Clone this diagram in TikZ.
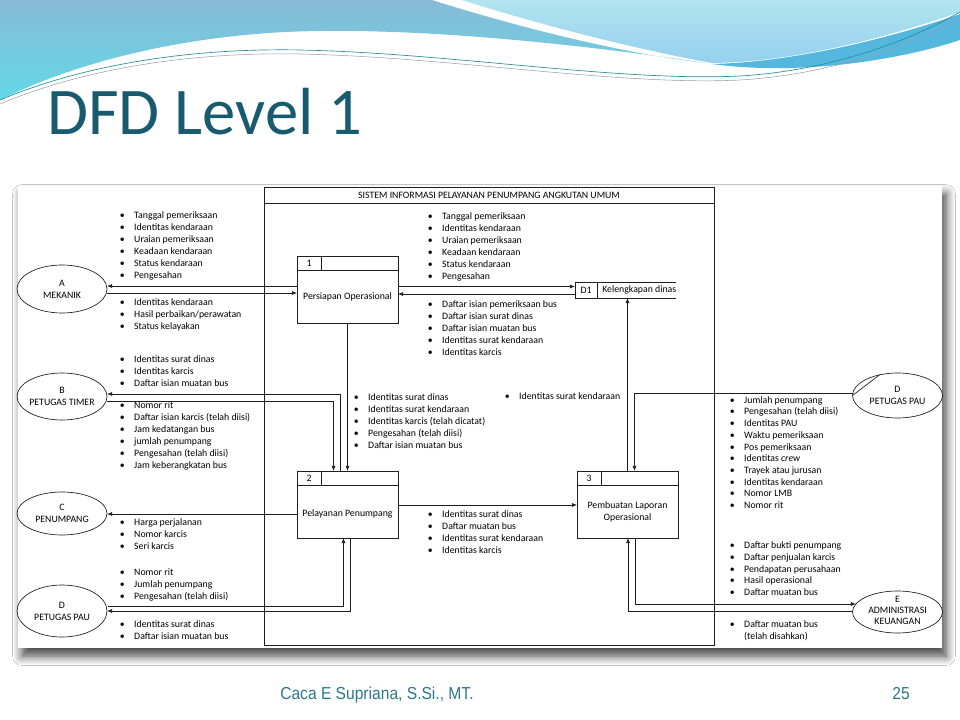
\documentclass[tikz,border=0pt]{standalone}
\usepackage{fontspec}
\setmainfont{Carlito}
\newfontfamily\footfont{Liberation Sans}
\usetikzlibrary{calc,arrows.meta,shadows.blur,shapes.geometric}
\definecolor{titlecol}{RGB}{24,90,110}
\definecolor{footcol}{RGB}{44,120,138}
\definecolor{waveA}{RGB}{136,186,214}
\definecolor{waveB}{RGB}{98,216,232}
\definecolor{waveC}{RGB}{176,228,238}
\definecolor{waveD}{RGB}{150,208,238}
\definecolor{waveE}{RGB}{84,184,222}
\definecolor{thinA}{RGB}{40,140,160}
\definecolor{thinB}{RGB}{150,160,175}
\definecolor{linecol}{RGB}{30,30,30}
\newcommand{\bl}[1]{\makebox[10.7pt][l]{\textbullet}#1}
\newcommand{\fs}{\fontsize{7.35pt}{9pt}\selectfont}
\newcommand{\fsr}{\fontsize{7.35pt}{8.8pt}\selectfont}
\begin{document}
\begin{tikzpicture}[x=0.75pt,y=-0.75pt,
  ln/.style={draw=linecol, line width=0.5pt},
  arr/.style={ln, -{Latex[length=3.8pt,width=3pt]}},
  proc/.style={ln, minimum width=75.75pt, minimum height=50.25pt, inner sep=0pt, outer sep=0pt},
  ext/.style={ellipse, ln, minimum width=67.5pt, inner sep=0pt, outer sep=0pt},
  txt/.style={font=\fs, inner sep=0pt, text=black},
  lst/.style={font=\fs, inner sep=0pt, align=left, anchor=north west},
  lstr/.style={font=\fsr, inner sep=0pt, align=left, anchor=north west}]
\useasboundingbox (0,0) rectangle (960,720);
\fill[white] (0,0) rectangle (960,720);

% ---- top waves
\shade[top color=waveA, bottom color=waveB] (0,0) -- (432,0)
  .. controls (520,28) and (630,55) .. (706,63)
  .. controls (590,46) and (420,26) .. (285,32)
  .. controls (170,38) and (70,65) .. (0,100) -- cycle;
\shade[top color=waveC, bottom color=waveD] (462,0) -- (960,0) -- (960,12)
  .. controls (880,40) and (790,62) .. (712,63)
  .. controls (640,50) and (540,25) .. (462,0) -- cycle;
\fill[waveE] (712,64) .. controls (800,62) and (900,35) .. (960,14) -- (960,40)
  .. controls (900,60) and (800,76) .. (712,64) -- cycle;
\draw[thinA, line width=0.5pt] (0,100) .. controls (90,62) and (200,48) .. (300,50)
  .. controls (450,53) and (620,82) .. (740,76) .. controls (840,70) and (920,35) .. (960,12);
\draw[thinB, line width=0.4pt] (0,104) .. controls (90,66) and (200,52) .. (300,54)
  .. controls (450,57) and (620,86) .. (740,80) .. controls (840,74) and (920,40) .. (960,18);

% ---- title and footer
\node[font=\fontsize{50pt}{54pt}\selectfont, text=titlecol, anchor=base west, inner sep=0pt] (title) at (47,135) {DFD Level 1};
\node[font=\footfont\fontsize{13pt}{15pt}\selectfont, text=footcol, anchor=base west, inner sep=0pt] (foot) at (280,699) {\scalebox{0.9}[1]{Caca E Supriana, S.Si., MT.}};
\node[font=\footfont\fontsize{13pt}{15pt}\selectfont, text=footcol, anchor=base east, inner sep=0pt] (page) at (910,699) {\scalebox{0.9}[1]{25}};

% ---- panel
\path[fill=white, blur shadow={shadow xshift=3pt, shadow yshift=-6pt, shadow blur radius=7pt, shadow blur steps=10, shadow opacity=75}] (18,186) rectangle (942,648);

% ---- system boundary
\node[ln, minimum width=337.5pt, minimum height=343.5pt, inner sep=0pt, outer sep=0pt] (sys) at (489,416) {};
\draw[ln] ($(sys.north west)+(0,16)$) -- ($(sys.north east)+(0,16)$);
\node[txt] (systitle) at ($(sys.north)+(0,8)$) {SISTEM INFORMASI PELAYANAN PENUMPANG ANGKUTAN UMUM};

% ---- processes
\node[proc] (p1) at (347.5,289.5) {};
\node[proc] (p2) at (347.5,504.5) {};
\node[proc] (p3) at (627.5,504.5) {};
\foreach \p/\n in {p1/1,p2/2,p3/3}{
  \draw[ln] ($(\p.north west)+(0,14)$) -- ($(\p.north east)+(0,14)$);
  \draw[ln] ($(\p.north west)+(24.5,0)$) -- ($(\p.north west)+(24.5,14)$);
  \node[txt] (\p n) at ($(\p.north west)+(12,7)$) {\n};
}
\node[txt] (p1t) at ($(p1.center)+(0,7.5)$) {Persiapan Operasional};
\node[txt] (p2t) at ($(p2.center)+(0,9.5)$) {Pelayanan Penumpang};
\node[txt, align=center] (p3t) at ($(p3.center)+(0,7.5)$) {Pembuatan Laporan\\Operasional};

% ---- data store
\node[minimum width=75.75pt, minimum height=12pt, inner sep=0pt, outer sep=0pt] (d1) at (625.5,290) {};
\draw[ln] (d1.north east) -- (d1.north west) -- (d1.south west) -- (d1.south east);
\draw[ln] ($(d1.north west)+(22,0)$) -- ($(d1.south west)+(22,0)$);
\node[txt] (d1n) at ($(d1.west)+(11,0)$) {D1};
\node[txt, anchor=west] (d1t) at ($(d1.west)+(27,0)$) {Kelengkapan dinas};

% ---- external entities
\node[ext, minimum height=36pt] (a) at (62,289) {};
\node[ext, minimum height=35.25pt] (b) at (62,396.5) {};
\node[ext, minimum height=32.25pt] (c) at (62,513.5) {};
\node[ext, minimum height=39pt] (dl) at (62,611) {};
\node[ext, minimum height=33.75pt] (dr) at (897.5,395.5) {};
\node[ext, minimum height=31.5pt] (e) at (897.5,612) {};
\draw[ln] (dr.131) -- (dr.180);
\node[txt, align=center] (at) at (a) {A\\MEKANIK};
\node[txt, align=center] (bt) at (b) {B\\PETUGAS TIMER};
\node[txt, align=center] (ct) at (c) {C\\PENUMPANG};
\node[txt, align=center] (dlt) at (dl) {D\\PETUGAS PAU};
\node[txt, align=center] (drt) at (dr) {D\\PETUGAS PAU};
\node[font=\fontsize{7.35pt}{8.3pt}\selectfont, inner sep=0pt, align=center] (et) at ($(e)+(0,-1.5)$) {E\\ADMINISTRASI\\KEUANGAN};

% ---- flows
\draw[arr] ($(p1.west)+(0,-3.5)$) -- ($(a.east)+(0,-3)$);
\draw[arr] ($(a.east)+(0,4)$) -- ($(p1.west)+(0,3.5)$);
\draw[arr] ($(p1.east)+(0,-3)$) -- ($(d1.west)+(0,-3.5)$);
\draw[arr] ($(d1.west)+(0,4)$) -- ($(p1.east)+(0,4.5)$);
\draw[arr] (p1.south) -- (p2.north);
\draw[arr] ($(p2.north)+(-7,0)$) |- ($(b.east)+(0,-2.5)$);
\draw[arr] ($(b.east)+(0,4.5)$) -| ($(p2.north)+(-14,0)$);
\draw[arr] ($(p2.west)+(0,9.5)$) -- ($(c.east)+(0,0.5)$);
\draw[arr] ($(dl.east)+(0.8,-5)$) -| ($(p2.south)+(-4,0)$);
\draw[arr] ($(p2.south)+(3,0)$) |- (dl.east);
\draw[arr] ($(p2.east)+(0,0.5)$) -- ($(p3.west)+(0,0.5)$);
\draw[arr] (p3.north) -- (p3.north |- d1.south);
\draw[arr] ($(dr.west)+(0,-2.5)$) -| ($(p3.north)+(7,0)$);
\draw[arr] ($(p3.south)+(7.5,0)$) |- ($(e.west)+(3.4,-8)$);
\draw[arr] ($(e.west)+(0,-1)$) -| ($(p3.south)+(0.5,0)$);

% ---- flow labels
\node[lst] (l1) at (119.7,211.5) {\rule{0pt}{5pt}\bl{Tanggal pemeriksaan}\\\bl{Identitas kendaraan}\\\bl{Uraian pemeriksaan}\\\bl{Keadaan kendaraan}\\\bl{Status kendaraan}\\\bl{Pengesahan}};
\node[lst] (l2) at (119.7,298.5) {\rule{0pt}{5pt}\bl{Identitas kendaraan}\\\bl{Hasil perbaikan/perawatan}\\\bl{Status kelayakan}};
\node[lst] (l3) at (119.7,355.5) {\rule{0pt}{5pt}\bl{Identitas surat dinas}\\\bl{Identitas karcis}\\\bl{Daftar isian muatan bus}};
\node[lst] (l4) at (119.7,401.5) {\rule{0pt}{5pt}\bl{Nomor rit}\\\bl{Daftar isian karcis (telah diisi)}\\\bl{Jam kedatangan bus}\\\bl{jumlah penumpang}\\\bl{Pengesahan (telah diisi)}\\\bl{Jam keberangkatan bus}};
\node[lst] (l5) at (119.7,518.5) {\rule{0pt}{5pt}\bl{Harga perjalanan}\\\bl{Nomor karcis}\\\bl{Seri karcis}};
\node[lst] (l6) at (119.7,568.5) {\rule{0pt}{5pt}\bl{Nomor rit}\\\bl{Jumlah penumpang}\\\bl{Pengesahan (telah diisi)}};
\node[lst] (l7) at (119.7,620.5) {\rule{0pt}{5pt}\bl{Identitas surat dinas}\\\bl{Daftar isian muatan bus}};
\node[lst] (l8) at (427.7,212.5) {\rule{0pt}{5pt}\bl{Tanggal pemeriksaan}\\\bl{Identitas kendaraan}\\\bl{Uraian pemeriksaan}\\\bl{Keadaan kendaraan}\\\bl{Status kendaraan}\\\bl{Pengesahan}};
\node[lst] (l9) at (427.7,300.5) {\rule{0pt}{5pt}\bl{Daftar isian pemeriksaan bus}\\\bl{Daftar isian surat dinas}\\\bl{Daftar isian muatan bus}\\\bl{Identitas surat kendaraan}\\\bl{Identitas karcis}};
\node[lst] (l10) at (353.7,393.5) {\rule{0pt}{5pt}\bl{Identitas surat dinas}\\\bl{Identitas surat kendaraan}\\\bl{Identitas karcis (telah dicatat)}\\\bl{Pengesahan (telah diisi)}\\\bl{Daftar isian muatan bus}};
\node[lst] (l11) at (504.7,392.5) {\rule{0pt}{5pt}\bl{Identitas surat kendaraan}};
\node[lst] (l12) at (427.7,510.5) {\rule{0pt}{5pt}\bl{Identitas surat dinas}\\\bl{Daftar muatan bus}\\\bl{Identitas surat kendaraan}\\\bl{Identitas karcis}};
\node[lstr] (l13) at (729.7,396) {\rule{0pt}{5pt}\bl{Jumlah penumpang}\\\bl{Pengesahan (telah diisi)}\\\bl{Identitas PAU}\\\bl{Waktu pemeriksaan}\\\bl{Pos pemeriksaan}\\\bl{Identitas \emph{crew}}\\\bl{Trayek atau jurusan}\\\bl{Identitas kendaraan}\\\bl{Nomor LMB}\\\bl{Nomor rit}};
\node[lstr] (l14) at (729.7,541.5) {\rule{0pt}{5pt}\bl{Daftar bukti penumpang}\\\bl{Daftar penjualan karcis}\\\bl{Pendapatan perusahaan}\\\bl{Hasil operasional}\\\bl{Daftar muatan bus}};
\node[lstr] (l15) at (729.7,620.5) {\rule{0pt}{5pt}\bl{Daftar muatan bus}\\\hspace*{10.7pt}(telah disahkan)};
\end{tikzpicture}
\end{document}
